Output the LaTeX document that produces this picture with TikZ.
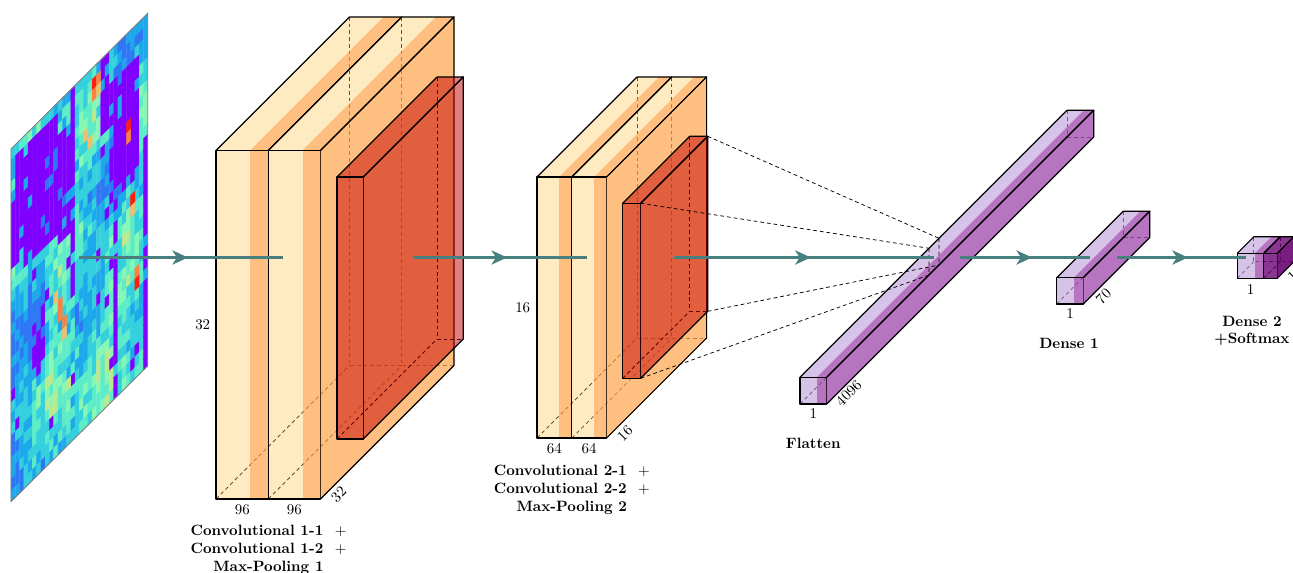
\documentclass[tikz,border=0pt]{standalone}
\usepackage{tikz}
\usetikzlibrary{calc, positioning}
\usetikzlibrary{decorations.markings, arrows.meta}

% layer colours
\definecolor{convfill}{RGB}{255,204,102}
\definecolor{convrelu}{RGB}{255,170,85}
\definecolor{poolfill}{RGB}{196,0,0}
\definecolor{fcfill}{RGB}{188,155,217}
\definecolor{fcrelu}{RGB}{165,82,178}
\definecolor{softfill}{RGB}{105,5,115}
\definecolor{edgecolor}{RGB}{72,128,128}
% colours of the input map
\definecolor{hm0}{RGB}{127,0,255}
\definecolor{hm1}{RGB}{46,120,245}
\definecolor{hm2}{RGB}{30,168,236}
\definecolor{hm3}{RGB}{52,208,222}
\definecolor{hm4}{RGB}{92,236,200}
\definecolor{hm5}{RGB}{135,248,180}
\definecolor{hm6}{RGB}{190,232,140}
\definecolor{hm7}{RGB}{240,190,110}
\definecolor{hm8}{RGB}{255,128,64}
\definecolor{hm9}{RGB}{255,30,15}

\tikzset{
  font=\normalsize,
  % Set arrowhead
  >={Stealth[length=10.5pt, width=9.5pt, inset=3pt]},
  % Connection with arrowhead in the middle
  midarrow/.style={decoration={
      markings, mark=at position #1 with
      {\arrow[xshift=4.7pt]{>}}},postaction={decorate}},
  conn/.style={draw=edgecolor, line width=1.6pt},
  % Box outlines
  boxline/.style={draw=black, line width=0.8pt, line join=round},
  hiddenline/.style={draw=black, line width=0.5pt, dash pattern=on 2.5pt off 2pt},
  % Faces
  conv face/.style={fill=convfill, fill opacity=0.4},
  conv band/.style={fill=convrelu, fill opacity=0.75},
  pool face/.style={fill=poolfill, fill opacity=0.5},
  pool band/.style={pool face},
  fc face/.style={fill=fcfill, fill opacity=0.6},
  fc band/.style={fill=fcrelu, fill opacity=0.8},
  soft face/.style={fill=softfill, fill opacity=0.8},
  soft band/.style={fill=softfill, fill opacity=0.9},
  % Cell of the input map
  cell/.style={fill=#1, draw=#1, line width=0.2pt},
  % Labels
  dimtext/.style={inner sep=0pt},
  zdim/.style={inner sep=0pt, rotate=45, anchor=north west},
  layername/.style={inner sep=0pt, anchor=north, align=center, font=\bfseries},
}

% one slab of a block: x, y of front top left, face width, band width, height, depth, kind
\newcommand{\slab}[7]{%
  \draw[hiddenline] ({#1+#6},{#2-#6}) -- ({#1+#6},{#2+#5-#6}) -- ({#1+#3+#4+#6},{#2+#5-#6});
  \draw[hiddenline] (#1,{#2+#5}) -- ({#1+#6},{#2+#5-#6});
  \fill[#7 face] (#1,#2) rectangle ({#1+#3},{#2+#5});
  \fill[#7 face] (#1,#2) -- ({#1+#3},#2) -- ++(#6,-#6) -- ({#1+#6},{#2-#6}) -- cycle;
  \fill[#7 band] ({#1+#3},#2) rectangle ({#1+#3+#4},{#2+#5});
  \fill[#7 band] ({#1+#3},#2) -- ({#1+#3+#4},#2) -- ++(#6,-#6) -- ({#1+#3+#6},{#2-#6}) -- cycle;
  \draw[boxline] (#1,#2) rectangle ({#1+#3+#4},{#2+#5});
  \draw[boxline] (#1,#2) -- ++(#6,-#6) -- ++({#3+#4},0) -- ({#1+#3+#4},#2);
}
% right face of a block: x of its front edge, y, height, depth, kind
\newcommand{\sideface}[5]{%
  \fill[#5 band] (#1,#2) -- ++(#4,-#4) -- ++(0,#3) -- (#1,{#2+#3}) -- cycle;
  \draw[boxline] (#1,#2) -- ++(#4,-#4) -- ++(0,#3) -- (#1,{#2+#3});
}

\begin{document}
\begin{tikzpicture}[x=0.67pt, y=-0.67pt]
  \useasboundingbox (0,0) rectangle (1293,573);

  % input map
  \pgfmathsetseed{20}
  \foreach \i in {0,...,31}{
    \foreach \j in {0,...,31}{
      \pgfmathrandominteger{\rv}{0}{99}
      \pgfmathtruncatemacro{\sv}{45+16*sin(23*\i+11*\j)+13*sin(9*\i-29*\j+40)+0.45*(\rv-50)+12*(\j>20)*(\i>8)-10*(\i<8)*(\j>12)}
      \pgfmathtruncatemacro{\cv}{\sv<16 ? 1 : (\sv<36 ? 2 : (\sv<56 ? 3 : (\sv<74 ? 4 : (\sv<88 ? 5 : 6))))}
      \pgfmathtruncatemacro{\pv}{(\rv>7)*((\i>0)*(\i<11)*(\j>0)*(\j<12) + (\i>10)*(\i<14)*(\j>2)*(\j<13) + (\i<1)*(\j>3)*(\j<11) + (\i>13)*(\i<15)*(\j<19) + (\i>22)*(\i<30)*(\j>2)*(\j<14) + (\i>20)*(\i<23)*(\j<7) + (\i>23)*(\i<25)*(\j>12) + (\i>30)*(\j>10) + (\i>4)*(\i<8)*(\j>15)*(\j<23)*(\rv>55)) + (\rv>97)}
      \ifnum\pv>0 \def\cv{0}\fi
      \fill[cell=hm\cv] ({11+4.272*\i},{149-4.241*\i+11.02*\j}) -- ++(4.272,-4.241) -- ++(0,11.02) -- ++(-4.272,4.241) -- cycle;
    }
  }
  \foreach \i/\j/\cv in {19/1/9, 20/1/8, 19/2/8, 20/2/7, 17/5/7, 18/6/7, 27/8/9, 27/9/8, 28/15/9, 28/16/7, 29/22/8, 29/23/9, 10/17/7, 11/18/8, 11/19/8, 12/20/8, 12/21/7, 13/26/6}
    \fill[cell=hm\cv] ({11+4.272*\i},{149-4.241*\i+11.02*\j}) -- ++(4.272,-4.241) -- ++(0,11.02) -- ++(-4.272,4.241) -- cycle;
  \draw[gray, line width=0.6pt] (11,149) -- (147.7,13.3) -- (147.7,365.9) -- (11,501.6) -- cycle;
  \coordinate (input) at (79.35,257.5);

  % conv 1 + pool 1
  \slab{216}{150.5}{34.25}{18}{348.5}{133.5}{conv}
  \slab{268.25}{150.5}{34.25}{18}{348.5}{133.5}{conv}
  \sideface{320.5}{150.5}{348.5}{133.5}{conv}
  \slab{337}{177}{26.3}{0}{262}{100}{pool}
  \sideface{363.3}{177}{262}{100}{pool}
  \coordinate (conv1-west) at (282.75,257.5);
  \coordinate (pool1-east) at (413.3,257.5);

  \node[dimtext, anchor=east] (conv1-h) at (210.5,324.7) {32};
  \node[dimtext] (conv1-w1) at (242.4,510) {96};
  \node[dimtext] (conv1-w2) at (294.4,510) {96};
  \node[zdim] (conv1-d) at (329.5,496) {32};
  \node[layername] (conv1-name) at (268.5,524.5)
    {Convolutional 1-1\ \ $+$\\Convolutional 1-2\ \ $+$\\Max-Pooling 1};

  % conv 2 + pool 2
  \slab{537}{177}{22.2}{12.6}{261}{100}{conv}
  \slab{571.8}{177}{22.2}{12.6}{261}{100}{conv}
  \sideface{606.6}{177}{261}{100}{conv}
  \slab{622.7}{203.3}{18}{0}{175}{67}{pool}
  \sideface{640.7}{203.3}{175}{67}{pool}
  \coordinate (conv2-west) at (587,257.5);
  \coordinate (pool2-east) at (674.2,257.5);
  \coordinate (pool2-ne) at (640.7,203.3);
  \coordinate (pool2-fne) at (707.7,136.3);
  \coordinate (pool2-se) at (640.7,378.3);
  \coordinate (pool2-fse) at (707.7,311.3);

  \node[dimtext, anchor=east] (conv2-h) at (530.5,307.5) {16};
  \node[dimtext] (conv2-w1) at (554.4,449) {64};
  \node[dimtext] (conv2-w2) at (589.2,449) {64};
  \node[zdim] (conv2-d) at (615.6,435) {16};
  \node[layername] (conv2-name) at (571.8,464.5)
    {Convolutional 2-1\ \ $+$\\Convolutional 2-2\ \ $+$\\Max-Pooling 2};

  % flatten
  \slab{800}{377.3}{16.7}{10}{26.7}{267}{fc}
  \sideface{826.7}{377.3}{26.7}{267}{fc}
  \coordinate (flat-west) at (933.5,257.5);
  \coordinate (flat-east) at (960.2,257.5);
  \coordinate (flat-nw) at (929,248.3);
  \coordinate (flat-fnw) at (939,238.3);
  \coordinate (flat-sw) at (929,275);
  \coordinate (flat-fsw) at (939,265);

  \node[dimtext] (flat-w) at (813.3,414) {1};
  \node[zdim] (flat-d) at (834,400) {4096};
  \node[layername] (flat-name) at (813.3,437.5) {Flatten};

  % dense 1
  \slab{1056.7}{277.7}{17.3}{9.3}{26.3}{66.5}{fc}
  \sideface{1083.3}{277.7}{26.3}{66.5}{fc}
  \coordinate (dense1-west) at (1090,257.5);
  \coordinate (dense1-east) at (1116.6,257.5);

  \node[dimtext] (dense1-w) at (1070,314) {1};
  \node[zdim] (dense1-d) at (1094,298) {70};
  \node[layername] (dense1-name) at (1069,337.5) {Dense 1};

  % dense 2 + softmax
  \slab{1237.3}{253.3}{17.4}{9}{25}{16.5}{fc}
  \slab{1263.7}{253.3}{13.6}{0}{25}{16.5}{soft}
  \sideface{1277.3}{253.3}{25}{16.5}{soft}
  \coordinate (dense2-west) at (1245.5,257.5);

  \node[dimtext] (dense2-w) at (1250.5,290) {1};
  \node[zdim] (dense2-d) at (1286,275) {1};
  \node[layername] (dense2-name) at (1252,315.5) {Dense 2\\+Softmax};

  % pool 2 to flatten
  \draw[hiddenline] (pool2-ne) -- (flat-nw) (pool2-fne) -- (flat-fnw)
    (pool2-se) -- (flat-sw) (pool2-fse) -- (flat-fsw)
    (flat-nw) -- (flat-sw) (flat-fnw) -- (flat-fsw);

  % connections
  \draw[conn, midarrow=0.5] (input) -- (conv1-west);
  \draw[conn, midarrow=0.5] (pool1-east) -- (conv2-west);
  \draw[conn, midarrow=0.5] (pool2-east) -- (flat-west);
  \draw[conn, midarrow=0.5] (flat-east) -- (dense1-west);
  \draw[conn, midarrow=0.5] (dense1-east) -- (dense2-west);
\end{tikzpicture}
\end{document}
